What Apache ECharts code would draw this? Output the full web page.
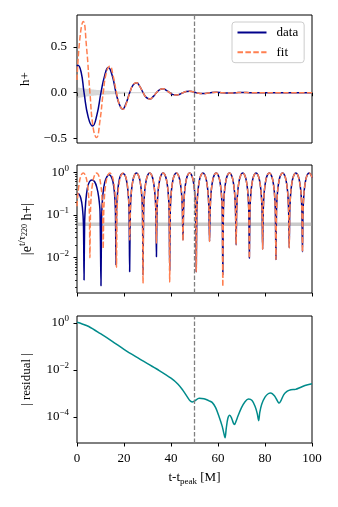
<!DOCTYPE html>
<html><head><meta charset="utf-8">
<script src="https://cdn.jsdelivr.net/npm/echarts@6/dist/echarts.min.js"></script>
<style>html,body{margin:0;padding:0;background:#fff}#c{width:338px;height:507px}</style>
</head><body><div id="c"></div>
<script>
// ---------- tick values ----------
const xTicks = [0, 20, 40, 60, 80, 100];
const hTicks = [-0.5, 0, 0.5];
const scaledTicks = [1, 0.1, 0.01];
const scaledMinor = [0.002,0.003,0.004,0.005,0.006,0.007,0.008,0.009,0.02,0.03,0.04,0.05,0.06,0.07,0.08,0.09,0.2,0.3,0.4,0.5,0.6,0.7,0.8,0.9];
const resTicks = [1, 0.01, 0.0001];
const tCut = 50;

// ---------- panel 1: h+ ----------
const hDataEarlyT = [0,0.4,1.8,3.0,4.8,6.6,8.4,10.2,11.8,13.3,14.95,16.6,18.0,19.4,20.9,22.4,23.9];
const hDataEarlyV = [0.29,0.30,0.22,0,-0.27,-0.365,-0.25,0,0.19,0.275,0.19,0,-0.125,-0.18,-0.115,0,0.085];
const hFitEarlyT = [0,1.25,2.67,4.08,5.5,6.92,8.33,9.75,11.16,12.58,13.99,15.4,16.82,18.24,19.65,21.06,22.48,23.9];
const hFitEarlyV = [0.14,0.60,0.78,0.49,0,-0.39,-0.49,-0.31,0,0.23,0.29,0.18,0,-0.143,-0.18,-0.113,0,0.088];
const hTailT = [25.31,26.72,28.14,29.56,30.97,32.38,33.8,35.22,36.63,38.04,39.46,40.88,42.29,43.7,45.12,46.54,47.95,49.36,50.78,53.61,56.44,59.27,62.1,64.93,67.76,70.59,73.42,76.25,79.08,81.91,84.74,87.57,90.4,93.23,96.06,98.89,100];
const hTailV = [0.11,0.069,0,-0.054,-0.068,-0.043,0,0.034,0.042,0.026,0,-0.021,-0.026,-0.016,0,0.013,0.016,0.01,0,-0.0098,0,0.006,0,-0.0037,0,0.0023,0,-0.0014,0,0.0009,0,-0.0005,0,0.0003,0,-0.0002,0];
const bandT = [0,5,10,15,20,25,30,35,40,50,60,80,100];
const bandV = [0.061,0.040,0.026,0.017,0.011,0.0072,0.0047,0.003,0.002,0.0009,0.0004,0.0001,0];

// ---------- panel 2: |e^{t/tau} h+| ----------
const noiseLevel = 0.061;
const sDataEarlyT = [0,0.8,1.6,2.3,2.75,3.0,3.25,3.7,4.4,5.3,6.4,7.5,8.4,9.2,9.8,10.2,10.5,11.0,11.8,12.7,13.6,14.5,15.3,15.9,16.35,16.6,16.85,17.3,18.0,18.7,19.5,20.3,21.0,21.7,22.15,22.4];
const sDataEarlyV = [0.32,0.31,0.25,0.15,0.06,0.003,0.07,0.2,0.42,0.6,0.66,0.6,0.45,0.27,0.12,0.0022,0.1,0.3,0.58,0.78,0.87,0.8,0.6,0.35,0.13,0.0067,0.13,0.36,0.67,0.88,0.94,0.88,0.67,0.36,0.13,0.0047];
const sFitEarlyT = [0,0.5,1.2,1.9,2.67,3.4,4.1,4.8,5.25,5.5,5.75,6.2,6.9,7.6,8.33,9.06,9.76,10.46,10.9,11.15,11.4,11.85,12.55,13.25,13.98,14.71,15.41,16.11,16.55,16.8,17.05,17.5,18.2,18.9,19.63,20.36,21.06,21.76,22.2,22.45];
const sFitEarlyV = [0.16,0.36,0.67,0.88,0.96,0.88,0.67,0.36,0.13,0.010,0.13,0.36,0.67,0.88,0.96,0.88,0.67,0.36,0.13,0.0165,0.13,0.36,0.67,0.88,0.96,0.88,0.67,0.36,0.13,0.006,0.13,0.36,0.67,0.88,0.96,0.88,0.67,0.36,0.13,0.026];
const sTailT = [22.7,23.15,23.85,24.55,25.28,26.01,26.71,27.41,27.85,28.1,
28.35,28.8,29.5,30.2,30.93,31.66,32.36,33.06,33.55,33.8,
34.05,34.5,35.2,35.9,36.63,37.36,38.06,38.76,39.2,39.45,
39.7,40.15,40.85,41.55,42.28,43.01,43.71,44.41,44.85,45.1,
45.35,45.8,46.5,47.2,47.93,48.66,49.36,50.06,50.5,50.75,
51.0,51.45,52.15,52.85,53.58,54.31,55.01,55.71,56.15,56.4,
56.65,57.1,57.8,58.5,59.23,59.96,60.66,61.36,61.8,62.05,
62.3,62.75,63.45,64.15,64.88,65.61,66.31,67.01,67.45,67.7,
67.95,68.4,69.1,69.8,70.53,71.26,71.96,72.66,73.1,73.35,
73.6,74.05,74.75,75.45,76.18,76.91,77.61,78.31,78.75,79.0,
79.25,79.7,80.4,81.1,81.83,82.56,83.26,83.96,84.4,84.65,
84.9,85.35,86.05,86.75,87.48,88.21,88.91,89.61,90.05,90.3,
90.55,91.0,91.7,92.4,93.13,93.86,94.56,95.26,95.7,95.95,
96.2,96.65,97.35,98.05,98.78,99.51,100];
const sTailFitV = [0.13,0.36,0.67,0.88,0.96,0.88,0.67,0.36,0.13,0.0025,
0.13,0.36,0.67,0.88,0.96,0.88,0.67,0.36,0.13,0.022,
0.13,0.36,0.67,0.88,0.96,0.88,0.67,0.36,0.13,0.0027,
0.13,0.36,0.67,0.88,0.96,0.88,0.67,0.36,0.13,0.025,
0.13,0.36,0.67,0.88,0.96,0.88,0.67,0.36,0.13,0.0047,
0.13,0.36,0.67,0.88,0.96,0.88,0.67,0.36,0.13,0.024,
0.13,0.36,0.67,0.88,0.96,0.88,0.67,0.36,0.13,0.0021,
0.13,0.36,0.67,0.88,0.96,0.88,0.67,0.36,0.13,0.020,
0.13,0.36,0.67,0.88,0.96,0.88,0.67,0.36,0.13,0.0097,
0.13,0.36,0.67,0.88,0.96,0.88,0.67,0.36,0.13,0.0158,
0.13,0.36,0.67,0.88,0.96,0.88,0.67,0.36,0.13,0.0091,
0.13,0.36,0.67,0.88,0.96,0.88,0.67,0.36,0.13,0.017,
0.13,0.36,0.67,0.88,0.96,0.88,0.67,0.36,0.13,0.0138,
0.13,0.36,0.67,0.88,0.96,0.88,0.75];
const sTailDataV = [0.13,0.36,0.67,0.88,0.96,0.88,0.67,0.36,0.13,0.004,
0.13,0.36,0.67,0.88,0.96,0.88,0.67,0.36,0.13,0.0105,
0.13,0.36,0.67,0.88,0.96,0.88,0.67,0.36,0.13,0.005,
0.13,0.36,0.67,0.88,0.96,0.88,0.67,0.36,0.13,0.026,
0.13,0.36,0.67,0.88,0.96,0.88,0.67,0.36,0.13,0.0047,
0.13,0.36,0.67,0.88,0.96,0.88,0.67,0.36,0.13,0.024,
0.13,0.36,0.67,0.88,0.96,0.88,0.67,0.36,0.13,0.004,
0.13,0.36,0.67,0.88,0.96,0.88,0.67,0.36,0.13,0.020,
0.13,0.36,0.67,0.88,0.96,0.88,0.67,0.36,0.13,0.0097,
0.13,0.36,0.67,0.88,0.96,0.88,0.67,0.36,0.13,0.0158,
0.13,0.36,0.67,0.88,0.96,0.88,0.67,0.36,0.13,0.0091,
0.13,0.36,0.67,0.88,0.96,0.88,0.67,0.36,0.13,0.017,
0.13,0.36,0.67,0.88,0.96,0.88,0.67,0.36,0.13,0.0138,
0.13,0.36,0.67,0.88,0.96,0.88,0.75];

// ---------- panel 3: |residual| ----------
const resT = [0,2,5,10,15,20,25,30,35,40,43,45,47,48,49,50,52,54,56,57.5,59,60.5,61.8,62.5,63,63.5,64.2,65,65.8,66.5,67,67.6,68.5,70,71.5,73,74.5,75.8,76.7,77.3,77.8,78.6,80,81.5,82.5,84,85.2,86,86.8,88,89.5,91,93,95,97,100];
const resV = [1.07,0.93,0.71,0.35,0.166,0.076,0.037,0.0186,0.0095,0.0045,0.0025,0.0014,0.0007,0.0005,0.00044,0.00048,0.00063,0.0006,0.0005,0.00042,0.00025,0.0001,0.00004,0.00002,0.000013,0.000032,0.000089,0.00012,0.000089,0.000056,0.000048,0.000063,0.00011,0.00025,0.00045,0.00058,0.0005,0.00028,0.00014,0.00007,0.00016,0.00035,0.0007,0.001,0.00105,0.0008,0.0005,0.00039,0.0005,0.0009,0.00126,0.00145,0.0015,0.0018,0.0022,0.0026];

// ---------- helpers ----------
const zip = (t, v) => t.map((x, i) => [x, v[i]]);
const FONT = 'Liberation Serif';
const BLUE = '#00008b', CORAL = '#ff7f50', TEAL = '#008b8b', GREY = '#808080';
const tickStyle = {color: '#000', width: 1};
const expRich = {
  b: {fontFamily: FONT, fontSize: 13, color: '#000'},
  s: {fontFamily: FONT, fontSize: 9, color: '#000', padding: [0, 0, 8, 0]}
};
const expFmt = v => {
  const e = Math.round(Math.log10(v));
  return '{b|10}{s|' + String(e).replace('-', '\u2212') + '}';
};
const vline = {
  silent: true, symbol: 'none', animation: false, label: {show: false},
  lineStyle: {color: GREY, type: [4.5, 2], width: 1.3},
  data: [{xAxis: tCut}]
};
function xAx(i, labels) {
  return {
    type: 'value', gridIndex: i, min: 0, max: 100, interval: 20,
    axisLine: {show: false}, splitLine: {show: false},
    axisTick: {show: true, length: 3.5, lineStyle: tickStyle, customValues: xTicks},
    axisLabel: {show: labels, customValues: xTicks, margin: 9, fontFamily: FONT, fontSize: 13, color: '#000'},
    name: labels ? '{a|t-t}{sub|peak}{a| [M]}' : '', nameLocation: 'middle', nameGap: 27,
    nameTextStyle: {rich: {
      a: {fontFamily: FONT, fontSize: 13, color: '#000'},
      sub: {fontFamily: FONT, fontSize: 9, color: '#000', padding: [7, 0, 0, 0]}
    }}
  };
}
const gridBase = {show: true, borderColor: '#000', borderWidth: 1, backgroundColor: 'transparent', containLabel: false};

const option = {
  animation: false,
  textStyle: {fontFamily: FONT},
  grid: [
    Object.assign({left: 77, top: 15, width: 235, height: 128}, gridBase),
    Object.assign({left: 77, top: 165, width: 235, height: 128}, gridBase),
    Object.assign({left: 77, top: 316, width: 235, height: 127}, gridBase)
  ],
  legend: {
    data: ['data', 'fit'], orient: 'vertical', left: 232, top: 22,
    itemWidth: 29, itemHeight: 14, itemGap: 6.7, padding: [4, 6, 4, 4.5],
    backgroundColor: 'rgba(255,255,255,0.8)', borderColor: '#cccccc', borderWidth: 1, borderRadius: 3,
    selectedMode: false,
    itemStyle: {opacity: 0},
    textStyle: {fontFamily: FONT, fontSize: 13, color: '#000', padding: [0, 0, 0, 5]}
  },
  xAxis: [xAx(0, false), xAx(1, false), xAx(2, true)],
  yAxis: [
    {type: 'value', gridIndex: 0, min: -0.55, max: 0.85,
     axisLine: {show: false}, splitLine: {show: false},
     axisTick: {length: 3.5, lineStyle: tickStyle, customValues: hTicks},
     axisLabel: {customValues: hTicks, margin: 10, fontFamily: FONT, fontSize: 13, color: '#000',
       formatter: v => v.toFixed(1).replace('-', '\u2212')},
     name: 'h+', nameLocation: 'middle', nameGap: 39, nameRotate: 90,
     nameTextStyle: {fontFamily: FONT, fontSize: 13, color: '#000'}},
    {type: 'log', logBase: 10, gridIndex: 1, min: 0.00149, max: 1.48,
     axisLine: {show: false}, splitLine: {show: false},
     axisTick: {length: 3.5, lineStyle: tickStyle, customValues: scaledTicks},
     axisLabel: {customValues: scaledTicks, margin: 8, formatter: expFmt, rich: expRich},
     name: '{n||e}{sp|t/\u03c4}{ss|220}{n| h+|}', nameLocation: 'middle', nameGap: 40, nameRotate: 90,
     nameTextStyle: {rich: {
       n: {fontFamily: FONT, fontSize: 14, color: '#000'},
       sp: {fontFamily: FONT, fontSize: 10.5, color: '#000', padding: [0, 0, 9, 0]},
       ss: {fontFamily: FONT, fontSize: 8, color: '#000', padding: [0, 0, 4, 0]}
     }}},
    {type: 'log', logBase: 10, gridIndex: 1, min: 0.00149, max: 1.48, position: 'left',
     axisLine: {show: false}, splitLine: {show: false}, axisLabel: {show: false},
     axisTick: {length: 2, lineStyle: {color: '#000', width: 0.8}, customValues: scaledMinor}},
    {type: 'log', logBase: 10, gridIndex: 2, min: 7.83e-6, max: 1.99,
     axisLine: {show: false}, splitLine: {show: false},
     axisTick: {length: 3.5, lineStyle: tickStyle, customValues: resTicks},
     axisLabel: {customValues: resTicks, margin: 8, formatter: expFmt, rich: expRich},
     name: '| residual |', nameLocation: 'middle', nameGap: 44, nameRotate: 90,
     nameTextStyle: {fontFamily: FONT, fontSize: 13, color: '#000'}}
  ],
  series: [
    {type: 'line', xAxisIndex: 0, yAxisIndex: 0, data: zip(bandT, bandV), showSymbol: false, symbol: 'none',
     smooth: true, lineStyle: {width: 0}, areaStyle: {color: 'rgba(128,128,128,0.45)', origin: 0}, z: 1},
    {type: 'line', xAxisIndex: 0, yAxisIndex: 0, data: zip(bandT, bandV.map(v => -v)), showSymbol: false, symbol: 'none',
     smooth: true, lineStyle: {width: 0}, areaStyle: {color: 'rgba(128,128,128,0.45)', origin: 0}, z: 1},
    {name: 'data', type: 'line', xAxisIndex: 0, yAxisIndex: 0,
     data: zip(hDataEarlyT, hDataEarlyV).concat(zip(hTailT, hTailV)),
     symbol: 'none', smooth: true, color: BLUE, lineStyle: {color: BLUE, width: 1.5}, z: 2},
    {name: 'fit', type: 'line', xAxisIndex: 0, yAxisIndex: 0,
     data: zip(hFitEarlyT, hFitEarlyV).concat(zip(hTailT, hTailV)),
     symbol: 'none', smooth: true, color: CORAL, lineStyle: {color: CORAL, width: 1.5, type: [5.5, 2.4]}, z: 3,
     markLine: vline},

    {type: 'line', xAxisIndex: 1, yAxisIndex: 1, data: [[0, noiseLevel], [100, noiseLevel]], symbol: 'none',
     lineStyle: {color: 'rgba(150,150,150,0.5)', width: 3.5}, z: 1},
    {name: 'data2', type: 'line', xAxisIndex: 1, yAxisIndex: 1,
     data: zip(sDataEarlyT, sDataEarlyV).concat(zip(sTailT, sTailDataV)),
     symbol: 'none', smooth: 0.25, lineStyle: {color: BLUE, width: 1.5}, z: 2},
    {name: 'fit2', type: 'line', xAxisIndex: 1, yAxisIndex: 1,
     data: zip(sFitEarlyT, sFitEarlyV).concat(zip(sTailT, sTailFitV)),
     symbol: 'none', smooth: 0.25, lineStyle: {color: CORAL, width: 1.5, type: [5.5, 2.4]}, z: 3,
     markLine: vline},

    {name: 'residual', type: 'line', xAxisIndex: 2, yAxisIndex: 3, data: zip(resT, resV),
     symbol: 'none', smooth: 0.3, lineStyle: {color: TEAL, width: 1.5}, z: 2, markLine: vline}
  ]
};
const chart = echarts.init(document.getElementById('c'), null, {renderer: 'canvas'});
chart.setOption(option);
</script></body></html>
